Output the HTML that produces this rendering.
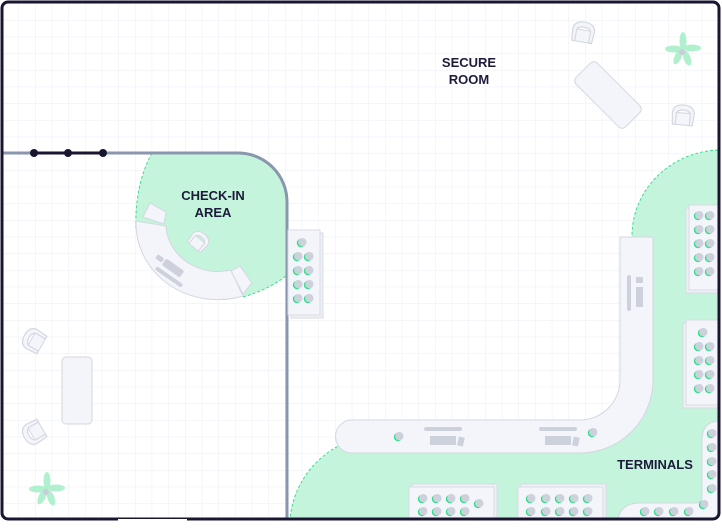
<!DOCTYPE html>
<html><head><meta charset="utf-8"><style>
html,body{margin:0;padding:0;background:#fff;}
svg{display:block;}
text{font-family:"Liberation Sans",sans-serif;font-weight:bold;fill:#1d1b3a;font-size:13px;text-anchor:middle;}
</style></head><body>
<svg width="722" height="530" viewBox="0 0 722 530" xmlns="http://www.w3.org/2000/svg">
<defs>
<pattern id="g" x="1.7" y="3.3" width="16.67" height="16.67" patternUnits="userSpaceOnUse">
<path d="M0 0H16.67M0 0V16.67" stroke="#eceef5" stroke-width="1" fill="none"/>
</pattern>
<clipPath id="room"><rect x="2" y="2" width="717" height="517" rx="6"/></clipPath>
<g id="seat"><circle cx="0" cy="0" r="4.2" fill="#2fe08a"/><circle cx="1.3" cy="-0.8" r="4.2" fill="#cdd1dc"/></g>
<g id="chair"><path d="M-10 8 L-11 -4 Q-10 -12 0 -12 Q10 -12 11 -4 L10 8 L7 8 L7 -3 Q6 -7 0 -7 Q-6 -7 -7 -3 L-7 8 Z" fill="#f3f5fa" stroke="#d3d7e0" stroke-width="1.2"/><rect x="-7" y="-4" width="14" height="12" fill="#f3f5fa" stroke="#d3d7e0" stroke-width="1"/></g>
<g id="plant" fill="#a8efca" opacity="0.9">
<ellipse cx="0" cy="-9" rx="3.5" ry="9"/><ellipse cx="9" cy="-2" rx="9" ry="3.5"/><ellipse cx="-9" cy="-1" rx="9" ry="3.5"/><ellipse cx="4" cy="8" rx="3.5" ry="8" transform="rotate(-20 4 8)"/><ellipse cx="-5" cy="7" rx="3.5" ry="8" transform="rotate(25 -5 7)"/><circle cx="-1" cy="2" r="3" fill="#c5c8d3"/></g>
</defs>
<rect width="722" height="530" fill="#fff"/>
<g clip-path="url(#room)">
<rect width="722" height="530" fill="url(#g)"/>
<!-- terminals green -->
<path d="M720 150 C670 152 632 190 632 236 L632 420 L345 443 C310 460 292 490 290 520 L720 520 Z" fill="#c4f5dc"/>
<path d="M718 150 C670 152 632 190 632 236" fill="none" stroke="#3ddc93" stroke-width="1" stroke-dasharray="3 2"/>
<path d="M342 444 C310 460 292 490 290 520" fill="none" stroke="#3ddc93" stroke-width="1" stroke-dasharray="3 2"/>
<!-- checkin green -->
<path d="M152 153 C140 175 135 200 136 230 L243 297 C260 292 275 285 287 275 L287 202 A49 49 0 0 0 238 153 Z" fill="#c4f5dc"/>
<path d="M152 153 C140 175 135 200 136 230" fill="none" stroke="#3ddc93" stroke-width="1" stroke-dasharray="3 2"/>
<path d="M243 297 C260 292 275 285 287 275" fill="none" stroke="#3ddc93" stroke-width="1" stroke-dasharray="3 2"/>
<!-- checkin desk -->
<path d="M136 221 A82 76 0 0 0 243 296 L231 270 A52 48 0 0 1 166 226 Z" fill="#f3f5fa" stroke="#d3d7e0" stroke-width="1"/>
<path d="M143 217 L150 203 L166 212 L164 224 Z" fill="#f3f5fa" stroke="#d3d7e0" stroke-width="1"/>
<path d="M231 271 L240 266 L252 283 L243 294 Z" fill="#f3f5fa" stroke="#d3d7e0" stroke-width="1"/>
<g transform="translate(198 242) rotate(40) scale(0.85)"><use href="#chair"/></g>
<rect x="162" y="264" width="22" height="8" rx="2" fill="#cdd1dc" transform="rotate(35 173 268)"/>
<rect x="153" y="275" width="32" height="4" rx="2" fill="#cdd1dc" transform="rotate(35 169 277)"/>
<rect x="156" y="256" width="8" height="5" rx="2" fill="#cdd1dc" transform="rotate(35 160 258)"/>
<!-- walls -->
<path d="M0 153H238A49 49 0 0 1 287 202V520" fill="none" stroke="#8a96ad" stroke-width="3"/>
<path d="M34 153H103" stroke="#1a1530" stroke-width="3"/>
<circle cx="34" cy="153" r="4" fill="#1a1530"/><circle cx="68" cy="153" r="4" fill="#1a1530"/><circle cx="103" cy="153" r="4" fill="#1a1530"/>
<!-- left seat block -->
<rect x="291" y="233" width="32" height="85" fill="#eef0f5" stroke="#d8dbe3"/>
<rect x="288" y="230" width="32" height="85" fill="#f3f5fa" stroke="#d8dbe3"/>
<use href="#seat" x="301" y="243"/>
<use href="#seat" x="297" y="257"/><use href="#seat" x="308" y="257"/>
<use href="#seat" x="297" y="271"/><use href="#seat" x="308" y="271"/>
<use href="#seat" x="297" y="285"/><use href="#seat" x="308" y="285"/>
<use href="#seat" x="297" y="299"/><use href="#seat" x="308" y="299"/>
<!-- counter -->
<path d="M620 237 L653 237 L653 380 A73 73 0 0 1 580 453 L352 453 A16.5 16.5 0 0 1 352 420 L580 420 A40 40 0 0 0 620 380 Z" fill="#f3f5fa" stroke="#d3d7e0"/>
<rect x="627" y="275" width="4" height="36" rx="2" fill="#cdd1dc"/>
<rect x="636" y="287" width="7" height="20" fill="#cdd1dc"/><rect x="636" y="277" width="7" height="6" rx="1" fill="#cdd1dc"/>
<rect x="424" y="427" width="38" height="4" rx="2" fill="#cdd1dc"/><rect x="430" y="436" width="26" height="9" fill="#cdd1dc"/><rect x="458" y="437" width="6" height="9" fill="#cdd1dc" transform="rotate(12 461 441)"/>
<rect x="539" y="427" width="38" height="4" rx="2" fill="#cdd1dc"/><rect x="545" y="436" width="26" height="9" fill="#cdd1dc"/><rect x="573" y="437" width="6" height="9" fill="#cdd1dc" transform="rotate(12 576 441)"/>
<use href="#seat" x="398" y="437"/><use href="#seat" x="592" y="433"/>
<!-- right seat blocks -->
<rect x="686" y="208" width="40" height="85" fill="#eef0f5" stroke="#d8dbe3"/>
<rect x="689" y="205" width="40" height="85" fill="#f3f5fa" stroke="#d8dbe3"/>
<use href="#seat" x="698" y="216"/><use href="#seat" x="709" y="216"/>
<use href="#seat" x="698" y="230"/><use href="#seat" x="709" y="230"/>
<use href="#seat" x="698" y="244"/><use href="#seat" x="709" y="244"/>
<use href="#seat" x="698" y="258"/><use href="#seat" x="709" y="258"/>
<use href="#seat" x="698" y="272"/><use href="#seat" x="709" y="272"/>
<rect x="683" y="323" width="40" height="85" fill="#eef0f5" stroke="#d8dbe3"/>
<rect x="686" y="320" width="40" height="85" fill="#f3f5fa" stroke="#d8dbe3"/>
<use href="#seat" x="702" y="333"/>
<use href="#seat" x="698" y="347"/><use href="#seat" x="709" y="347"/>
<use href="#seat" x="698" y="361"/><use href="#seat" x="709" y="361"/>
<use href="#seat" x="698" y="375"/><use href="#seat" x="709" y="375"/>
<use href="#seat" x="698" y="389"/><use href="#seat" x="709" y="389"/>
<!-- right curved strip -->
<path d="M720 421 Q702 421 702 440 L702 497 Q702 503 694 503 L640 503 Q620 503 618 520 L720 520 Z" fill="#f3f5fa" stroke="#d3d7e0"/>
<use href="#seat" x="711" y="434"/><use href="#seat" x="711" y="448"/><use href="#seat" x="711" y="462"/><use href="#seat" x="711" y="475"/><use href="#seat" x="711" y="489"/><use href="#seat" x="703" y="505"/>
<use href="#seat" x="644" y="512"/><use href="#seat" x="658" y="512"/><use href="#seat" x="673" y="512"/><use href="#seat" x="688" y="512"/>
<!-- bottom seat blocks -->
<rect x="412" y="484" width="85" height="40" fill="#eef0f5" stroke="#d8dbe3"/>
<rect x="409" y="487" width="85" height="40" fill="#f3f5fa" stroke="#d8dbe3"/>
<use href="#seat" x="422" y="499"/><use href="#seat" x="436" y="499"/><use href="#seat" x="450" y="499"/><use href="#seat" x="464" y="499"/><use href="#seat" x="478" y="504"/>
<use href="#seat" x="422" y="512"/><use href="#seat" x="436" y="512"/><use href="#seat" x="450" y="512"/><use href="#seat" x="464" y="512"/>
<rect x="521" y="484" width="85" height="40" fill="#eef0f5" stroke="#d8dbe3"/>
<rect x="518" y="487" width="85" height="40" fill="#f3f5fa" stroke="#d8dbe3"/>
<use href="#seat" x="530" y="499"/><use href="#seat" x="545" y="499"/><use href="#seat" x="559" y="499"/><use href="#seat" x="573" y="499"/><use href="#seat" x="587" y="499"/>
<use href="#seat" x="530" y="512"/><use href="#seat" x="545" y="512"/><use href="#seat" x="559" y="512"/><use href="#seat" x="573" y="512"/><use href="#seat" x="587" y="512"/>
<!-- left furniture -->
<rect x="62" y="357" width="30" height="67" rx="4" fill="#f3f5fa" stroke="#d3d7e0"/>
<g transform="translate(35 341) rotate(-60)"><use href="#chair"/></g>
<g transform="translate(35 432) rotate(-120)"><use href="#chair"/></g>
<g transform="translate(47 490)"><use href="#plant"/></g>
<!-- secure room furniture -->
<rect x="573" y="80" width="70" height="30" rx="5" fill="#f3f5fa" stroke="#d3d7e0" transform="rotate(45 608 95)"/>
<g transform="translate(583 34) rotate(10)"><use href="#chair"/></g>
<g transform="translate(683 117) rotate(5)"><use href="#chair"/></g>
<g transform="translate(683 50)"><use href="#plant"/></g>
</g>
<rect x="2" y="2" width="717" height="517" rx="6" fill="none" stroke="#1a1530" stroke-width="3"/>
<path d="M118 520H187" stroke="#fff" stroke-width="2"/>
<text x="469" y="67">SECURE</text>
<text x="469" y="84">ROOM</text>
<text x="213" y="200">CHECK-IN</text>
<text x="213" y="217">AREA</text>
<text x="655" y="469">TERMINALS</text>
</svg>
</body></html>
